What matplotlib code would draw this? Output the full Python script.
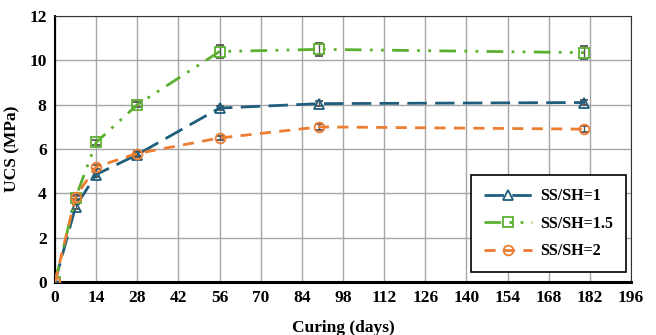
import matplotlib.pyplot as plt

# ---------------------------------------------------
# DATA
# ---------------------------------------------------

days = [0, 7, 14, 28, 56, 90, 180]

ucs_1 = [0, 3.4, 4.85, 5.75, 7.85, 8.05, 8.1]
ucs_15 = [0, 3.8, 6.3, 8.0, 10.4, 10.5, 10.35]
ucs_2 = [0, 3.85, 5.2, 5.8, 6.5, 7.0, 6.9]

err_1 = [0, 0.1, 0.1, 0.1, 0.1, 0.12, 0.12]
err_15 = [0, 0.1, 0.12, 0.12, 0.3, 0.3, 0.3]
err_2 = [0, 0.1, 0.1, 0.1, 0.1, 0.15, 0.12]

labels = ["SS/SH=1", "SS/SH=1.5", "SS/SH=2"]

# ---------------------------------------------------
# STYLE
# ---------------------------------------------------

plt.rcParams["font.family"] = ["Liberation Serif", "DejaVu Serif"]
plt.rcParams["font.weight"] = "bold"

fig = plt.figure(figsize=(6.56, 3.35), dpi=100)
ax = fig.add_axes([0.0838, 0.158, 0.878, 0.794])

series = [
    (ucs_1, err_1, "#1f5d7d", "^", (0, (7, 3))),
    (ucs_15, err_15, "#5cb030", "s", (0, (6, 3, 1, 3, 1, 3))),
    (ucs_2, err_2, "#ed7d31", "o", (0, (4, 3))),
]

for (vals, errs, col, mk, ls), lab in zip(series, labels):
    ax.errorbar(
        days,
        vals,
        yerr=errs,
        color=col,
        linestyle=ls,
        linewidth=2,
        marker=mk,
        markersize=7,
        markerfacecolor="none",
        markeredgecolor=col,
        markeredgewidth=1.3,
        ecolor="#555555",
        elinewidth=1,
        capsize=3,
        label=lab,
        zorder=3
    )

# ---------------------------------------------------
# AXES
# ---------------------------------------------------

ax.set_xlim(0, 196)
ax.set_ylim(0, 12)
ax.set_xticks(range(0, 197, 14))
ax.set_yticks(range(0, 13, 2))
ax.tick_params(length=0, labelsize=12.5, pad=6)

ax.grid(True, color="#a6a6a6", linewidth=1)
ax.set_axisbelow(True)

ax.spines["bottom"].set_linewidth(2.2)
ax.spines["bottom"].set_color("black")
ax.spines["left"].set_linewidth(1.5)
ax.spines["left"].set_color("black")
ax.spines["top"].set_color("#333333")
ax.spines["right"].set_color("#333333")

ax.set_xlabel("Curing (days)", fontsize=12.5, fontweight="bold", labelpad=10)
ax.set_ylabel("UCS (MPa)", fontsize=12.5, fontweight="bold", labelpad=6)

leg = ax.legend(
    handles=[c[0] for c in ax.containers],
    labels=labels,
    loc="lower right",
    bbox_to_anchor=(0.991, 0.038),
    borderaxespad=0,
    fontsize=11.5,
    frameon=True,
    fancybox=False,
    edgecolor="black",
    framealpha=1,
    labelspacing=0.72,
    handlelength=3.0,
    handletextpad=0.5,
    borderpad=0.8
)
leg.get_frame().set_linewidth(1.2)

plt.savefig("out.png", dpi=100)
